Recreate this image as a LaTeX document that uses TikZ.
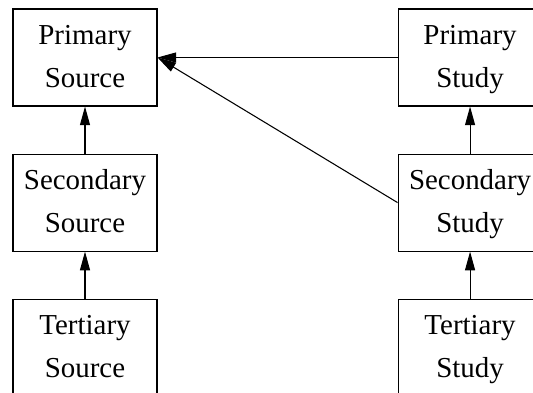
\documentclass[tikz,border=0pt]{standalone}
\usepackage{fontspec}
\setmainfont{Liberation Serif}
\usetikzlibrary{positioning,arrows.meta}
\tikzset{
	box/.style={draw,line width=0.8pt,minimum width=108pt,minimum height=72.75pt,inner sep=0pt,align=center,
		font=\fontsize{21.7}{32.5}\selectfont},
	up/.style={-{Triangle[length=14pt,width=7.5pt]},line width=0.8pt}
}
\begin{document}
\begin{tikzpicture}[x=0.75pt,y=-0.75pt,node distance=35.25pt and 180pt]
\useasboundingbox (0,0) rectangle (533,393);
\clip (0,0) rectangle (533,393);
\node[box] (psource) at (85,57.5) {\strut Primary\\Source\strut};
\node[box,below=of psource] (ssource) {\strut Secondary\\Source\strut};
\node[box,below=of ssource] (tsource) {\strut Tertiary\\Source\strut};
\node[box,right=of psource] (pstudy) {\strut Primary\\Study\strut};
\node[box,below=of pstudy] (sstudy) {\strut Secondary\\Study\strut};
\node[box,below=of sstudy] (tstudy) {\strut Tertiary\\Study\strut};
\foreach \a/\b in {ssource/psource,tsource/ssource,sstudy/pstudy,tstudy/sstudy}{
	\draw[up] (\a) -- (\b);}
\draw[up] (pstudy) -- (psource);
\draw[up] (sstudy.west) -- (psource.east);
\end{tikzpicture}
\end{document}
